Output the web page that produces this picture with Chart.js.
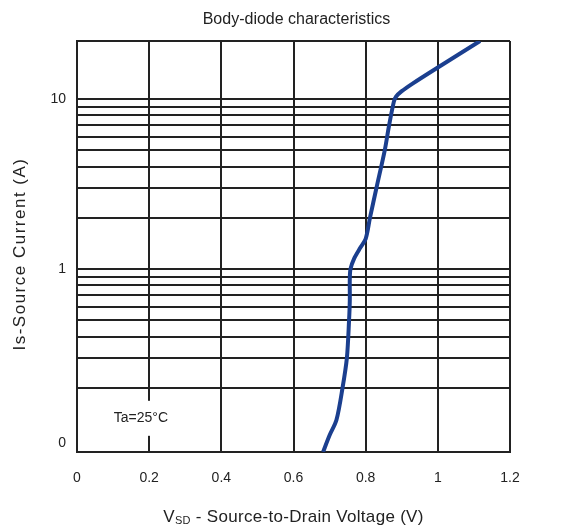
<!DOCTYPE html>
<html>
<head>
<meta charset="utf-8">
<title>Body-diode characteristics</title>
<script src="https://cdn.jsdelivr.net/npm/chart.js@4.4.0/dist/chart.umd.min.js"></script>
<style>
  html, body { margin: 0; padding: 0; background: #fff; }
</style>
</head>
<body>
<canvas id="diodeChart" width="569" height="529"></canvas>
<script>
// curve: VSD (V) against Is (A)
const vsd =       [0.682, 0.700, 0.719, 0.736, 0.748, 0.754, 0.756, 0.756, 0.758, 0.768, 0.785, 0.800, 0.812, 0.830, 0.853, 0.865, 0.878, 0.884, 0.900, 0.930, 1.000, 1.117];
const isCurrent = [0.0837, 0.105, 0.129, 0.20, 0.30, 0.50, 0.65, 0.87, 1.00, 1.15, 1.33, 1.50, 2.0, 3.0, 5.0, 7.0, 9.6, 10.3, 11.1, 12.3, 15.3, 21.9];

// x axis ticks
const xTicks = [0, 0.2, 0.4, 0.6, 0.8, 1.0, 1.2];
const xTickLabels = ['0', '0.2', '0.4', '0.6', '0.8', '1', '1.2'];

// y axis (log): range, grid lines and the few labelled ticks
const yMin = 0.0837;
const yMax = 21.9;
const yGrid = [0.2, 0.3, 0.4, 0.5, 0.6, 0.7, 0.8, 0.9, 1, 2, 3, 4, 5, 6, 7, 8, 9, 10, yMax];
const yLabelValues = [0.095, 1, 10];
const yLabelTexts = ['0', '1', '10'];

const note = { text: 'Ta=25°C', x: 0.177, y: 0.133 };

const FONT = '"Liberation Sans", Arial, Helvetica, sans-serif';
const INK = '#222';

// titles, subscript axis label and the boxed temperature note
const textPlugin = {
  id: 'texts',
  beforeDatasetsDraw(chart) {
    const { ctx, scales } = chart;
    const px = scales.x.getPixelForValue(note.x);
    const py = scales.y.getPixelForValue(note.y);
    ctx.save();
    ctx.font = '14px ' + FONT;
    const w = ctx.measureText(note.text).width;
    ctx.fillStyle = '#fff';
    ctx.fillRect(px - w / 2 - 4, py - 17, w + 8, 35);
    ctx.fillStyle = INK;
    ctx.textAlign = 'center';
    ctx.textBaseline = 'middle';
    ctx.fillText(note.text, px, py);
    ctx.restore();
  },
  afterDraw(chart) {
    const { ctx, chartArea } = chart;
    const cx = (chartArea.left + chartArea.right) / 2;
    ctx.save();
    ctx.fillStyle = INK;
    ctx.textBaseline = 'middle';

    // chart title
    ctx.font = '16px ' + FONT;
    ctx.textAlign = 'center';
    ctx.fillText('Body-diode characteristics', cx + 3, chartArea.top - 21);

    // y axis title, a little spaced out like the original
    ctx.save();
    ctx.translate(20, 254);
    ctx.rotate(-Math.PI / 2);
    ctx.letterSpacing = '1.5px';
    ctx.font = '17px ' + FONT;
    ctx.fillText('Is-Source Current (A)', 0, 0);
    ctx.restore();

    // x axis title with subscript
    ctx.letterSpacing = '0.3px';
    const big = '17px ' + FONT, small = '11px ' + FONT;
    const parts = [['V', big, 0], ['SD', small, 4], [' - Source-to-Drain Voltage (V)', big, 0]];
    let total = 0;
    parts.forEach(p => { ctx.font = p[1]; total += ctx.measureText(p[0]).width; });
    let x = cx - total / 2;
    const y = chartArea.bottom + 65;
    ctx.textAlign = 'left';
    parts.forEach(p => {
      ctx.font = p[1];
      ctx.fillText(p[0], x, y + p[2]);
      x += ctx.measureText(p[0]).width;
    });
    ctx.restore();
  }
};

new Chart(document.getElementById('diodeChart').getContext('2d'), {
  type: 'line',
  data: {
    datasets: [{
      data: vsd.map((v, i) => ({ x: v, y: isCurrent[i] })),
      borderColor: '#1b3f8f',
      borderWidth: 4,
      pointRadius: 0,
      fill: false,
      tension: 0.3
    }]
  },
  options: {
    responsive: false,
    animation: false,
    layout: { padding: { top: 41, right: 59, left: 0, bottom: 0 } },
    plugins: {
      legend: { display: false },
      tooltip: { enabled: false },
      title: { display: false }
    },
    scales: {
      x: {
        type: 'linear',
        min: 0,
        max: 1.2,
        afterFit: s => { s.height = 77; },
        afterBuildTicks: s => { s.ticks = xTicks.map(v => ({ value: v })); },
        ticks: {
          padding: 18,
          color: INK,
          font: { family: FONT, size: 14 },
          callback: (v, i) => xTickLabels[i]
        },
        grid: { color: INK, lineWidth: 2, drawTicks: false },
        border: { color: INK, width: 2 }
      },
      y: {
        type: 'logarithmic',
        min: yMin,
        max: yMax,
        afterFit: s => { s.width = 77; },
        afterBuildTicks: s => {
          const vals = yGrid.concat(yLabelValues.filter(v => !yGrid.includes(v)));
          s.ticks = vals.sort((a, b) => a - b).map(v => ({ value: v }));
        },
        ticks: {
          padding: 11,
          color: INK,
          autoSkip: false,
          font: { family: FONT, size: 14 },
          callback: v => {
            const k = yLabelValues.indexOf(v);
            return k >= 0 ? yLabelTexts[k] : '';
          }
        },
        grid: {
          lineWidth: 2,
          drawTicks: false,
          color: c => (c.tick && yGrid.includes(c.tick.value)) ? INK : 'rgba(0,0,0,0)'
        },
        border: { color: INK, width: 2 }
      }
    }
  },
  plugins: [textPlugin]
});
</script>
</body>
</html>
